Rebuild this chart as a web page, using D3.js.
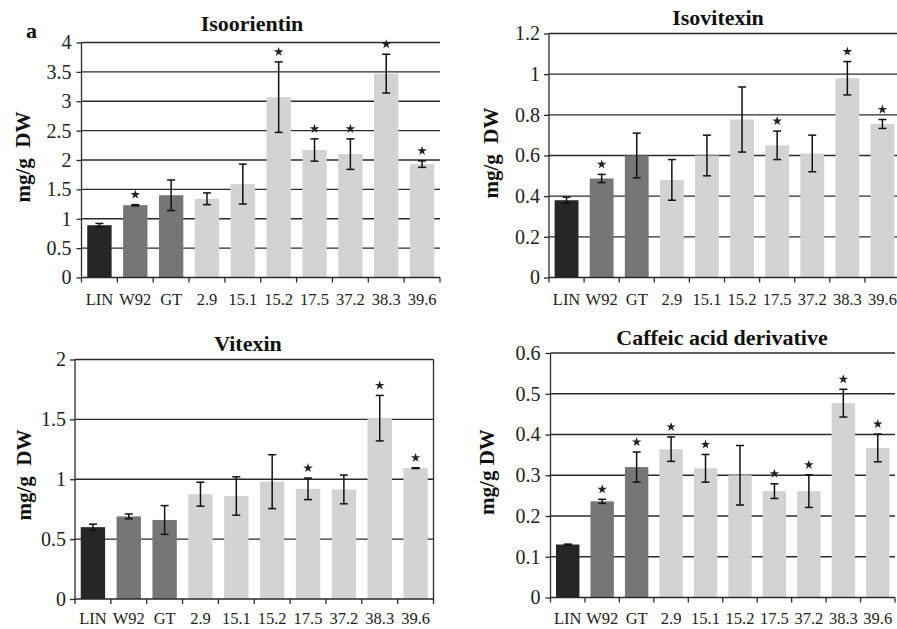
<!DOCTYPE html>
<html>
<head>
<meta charset="utf-8">
<script src="https://cdn.jsdelivr.net/npm/d3@7"></script>
<style>
    body { margin: 0; background: #fff; }
    svg { display: block; }
    svg text { font-family: 'Liberation Serif', 'Times New Roman', serif !important; }
</style>
</head>
<body>
<svg id="chart" width="897" height="629"></svg>
<script>

//  categories shared by all four panels
var categories = ['LIN', 'W92', 'GT', '2.9', '15.1', '15.2', '17.5', '37.2', '38.3', '39.6'];

//  values (mg/g DW), with error half-widths and significance stars
var isoorientin     = [0.89, 1.23, 1.40, 1.34, 1.59, 3.07, 2.17, 2.10, 3.47, 1.93];
var isoorientin_err = [0.03, 0.01, 0.26, 0.10, 0.34, 0.60, 0.19, 0.26, 0.33, 0.055];
var isoorientin_sig = [0, 1, 0, 0, 0, 1, 1, 1, 1, 1];

var isovitexin      = [0.38, 0.487, 0.60, 0.48, 0.60, 0.777, 0.65, 0.61, 0.98, 0.755];
var isovitexin_err  = [0.015, 0.02, 0.11, 0.10, 0.10, 0.16, 0.07, 0.09, 0.082, 0.022];
var isovitexin_sig  = [0, 1, 0, 0, 0, 0, 1, 0, 1, 1];

var vitexin         = [0.60, 0.69, 0.66, 0.875, 0.86, 0.98, 0.92, 0.915, 1.51, 1.093];
var vitexin_err     = [0.025, 0.02, 0.12, 0.10, 0.16, 0.225, 0.09, 0.12, 0.19, 0.003];
var vitexin_sig     = [0, 0, 0, 0, 0, 0, 1, 0, 1, 1];

var caffeic         = [0.130, 0.236, 0.320, 0.364, 0.317, 0.300, 0.261, 0.261, 0.477, 0.367];
var caffeic_err     = [0.001, 0.005, 0.037, 0.030, 0.034, 0.073, 0.018, 0.040, 0.034, 0.034];
var caffeic_sig     = [0, 1, 1, 1, 1, 0, 1, 1, 1, 1];

//  y tick values per panel
var isoorientin_ticks = [0, 0.5, 1, 1.5, 2, 2.5, 3, 3.5, 4];
var isovitexin_ticks  = [0, 0.2, 0.4, 0.6, 0.8, 1, 1.2];
var vitexin_ticks     = [0, 0.5, 1, 1.5, 2];
var caffeic_ticks     = [0, 0.1, 0.2, 0.3, 0.4, 0.5, 0.6];

var colors = { 'dark': '#262626', 'mid': '#767676', 'light': '#d3d3d3' };

function barColor(i) {
    if (i == 0) return colors.dark;
    if (i < 3) return colors.mid;
    return colors.light;
}

var panels = [
    {
        'title': 'Isoorientin', 'ylabel': 'mg/g  DW', 'letter': 'a',
        'values': isoorientin, 'err': isoorientin_err, 'sig': isoorientin_sig, 'ticks': isoorientin_ticks,
        'left': 81.5, 'right': 440, 'top': 42.5, 'bottom': 277.5, 'tick_pad': 5,
        'title_x': 252, 'title_y': 31, 'ylabel_x': 30, 'ylabel_y': 157, 'xlabel_dy': 27, 'box': false
    },
    {
        'title': 'Isovitexin', 'ylabel': 'mg/g  DW',
        'values': isovitexin, 'err': isovitexin_err, 'sig': isovitexin_sig, 'ticks': isovitexin_ticks,
        'left': 549, 'right': 900, 'top': 33.5, 'bottom': 277.5, 'tick_pad': 4,
        'title_x': 718, 'title_y': 25, 'ylabel_x': 498, 'ylabel_y': 153, 'xlabel_dy': 27, 'box': false
    },
    {
        'title': 'Vitexin', 'ylabel': 'mg/g  DW',
        'values': vitexin, 'err': vitexin_err, 'sig': vitexin_sig, 'ticks': vitexin_ticks,
        'left': 75, 'right': 433.5, 'top': 359.5, 'bottom': 599, 'tick_pad': 4,
        'title_x': 248, 'title_y': 351, 'ylabel_x': 31, 'ylabel_y': 475, 'xlabel_dy': 25, 'box': true
    },
    {
        'title': 'Caffeic acid derivative', 'ylabel': 'mg/g DW',
        'values': caffeic, 'err': caffeic_err, 'sig': caffeic_sig, 'ticks': caffeic_ticks,
        'left': 550.5, 'right': 895, 'top': 353, 'bottom': 597.5, 'tick_pad': 5,
        'title_x': 722, 'title_y': 345, 'ylabel_x': 494, 'ylabel_y': 472, 'xlabel_dy': 26.5, 'box': false
    }
];

var svg = d3.select('#chart');

for (var i = 0; i < panels.length; ++i) {
    drawPanel(svg, panels[i]);
}


function drawPanel(svg, p) {

    var g = svg.append('g');

    var x = d3.scaleBand()
        .domain(categories)
        .range([p.left, p.right])
        .paddingInner(0.32)
        .paddingOuter(0.16);

    var y = d3.scaleLinear()
        .domain([0, d3.max(p.ticks)])
        .range([p.bottom, p.top]);

    //  gridlines
    g.selectAll('.grid')
        .data(p.ticks.slice(1))
        .enter()
        .append('line')
        .attr('x1', p.left)
        .attr('x2', p.right)
        .attr('y1', function(d) { return y(d); })
        .attr('y2', function(d) { return y(d); })
        .attr('stroke', '#2a2a2a')
        .attr('stroke-width', 1.3);

    if (p.box) {
        g.append('line')
            .attr('x1', p.right).attr('x2', p.right)
            .attr('y1', p.top).attr('y2', p.bottom)
            .attr('stroke', '#2a2a2a')
            .attr('stroke-width', 1.3);
    }

    //  bars
    g.selectAll('.bar')
        .data(p.values)
        .enter()
        .append('rect')
        .attr('x', function(d, i) { return x(categories[i]); })
        .attr('width', x.bandwidth())
        .attr('y', function(d) { return y(d); })
        .attr('height', function(d) { return y(0) - y(d); })
        .attr('fill', function(d, i) { return barColor(i); });

    var cx = function(i) { return x(categories[i]) + x.bandwidth() / 2; };

    //  error bars
    var eb = g.selectAll('.err')
        .data(p.values)
        .enter()
        .append('g')
        .attr('stroke', '#111')
        .attr('stroke-width', 1.5);

    eb.append('line')
        .attr('x1', function(d, i) { return cx(i); })
        .attr('x2', function(d, i) { return cx(i); })
        .attr('y1', function(d, i) { return y(d + p.err[i]); })
        .attr('y2', function(d, i) { return y(d - p.err[i]); });

    eb.append('line')
        .attr('x1', function(d, i) { return cx(i) - 4; })
        .attr('x2', function(d, i) { return cx(i) + 4; })
        .attr('y1', function(d, i) { return y(d + p.err[i]); })
        .attr('y2', function(d, i) { return y(d + p.err[i]); });

    eb.append('line')
        .attr('x1', function(d, i) { return cx(i) - 4; })
        .attr('x2', function(d, i) { return cx(i) + 4; })
        .attr('y1', function(d, i) { return y(d - p.err[i]); })
        .attr('y2', function(d, i) { return y(d - p.err[i]); });

    //  significance stars
    var star = d3.symbol().type(d3.symbolStar).size(28);

    g.selectAll('.star')
        .data(d3.range(categories.length).filter(function(i) { return p.sig[i]; }))
        .enter()
        .append('path')
        .attr('d', star)
        .attr('transform', function(i) {
            return 'translate(' + cx(i) + ',' + (y(p.values[i] + p.err[i]) - 10) + ')';
        })
        .attr('fill', '#222');

    //  y axis
    var yAxis = d3.axisLeft(y)
        .tickValues(p.ticks)
        .tickSize(5)
        .tickPadding(p.tick_pad)
        .tickFormat(d3.format('~g'));

    var ya = g.append('g')
        .attr('transform', 'translate(' + p.left + ',0)')
        .call(yAxis);

    ya.selectAll('line, path').attr('stroke', '#2a2a2a').attr('stroke-width', 1.3);
    ya.select('.domain').attr('d', 'M0,' + p.bottom + 'V' + p.top);
    ya.selectAll('text')
        .style('font-size', '20px')
        .attr('fill', '#222');

    //  x axis: baseline, boundary ticks, labels
    g.append('line')
        .attr('x1', p.left).attr('x2', p.right)
        .attr('y1', p.bottom).attr('y2', p.bottom)
        .attr('stroke', '#2a2a2a')
        .attr('stroke-width', 1.5);

    var bounds = d3.range(categories.length + 1).map(function(i) {
        return p.left + i * x.step();
    });

    g.selectAll('.xtick')
        .data(bounds)
        .enter()
        .append('line')
        .attr('x1', function(d) { return d; })
        .attr('x2', function(d) { return d; })
        .attr('y1', p.bottom)
        .attr('y2', p.bottom + 5)
        .attr('stroke', '#2a2a2a')
        .attr('stroke-width', 1.3);

    g.selectAll('.xlabel')
        .data(categories)
        .enter()
        .append('text')
        .attr('x', function(d) { return x(d) + x.bandwidth() / 2; })
        .attr('y', p.bottom + p.xlabel_dy)
        .attr('text-anchor', 'middle')
        .style('font-size', '16.5px')
        .attr('fill', '#222')
        .text(function(d) { return d; });

    //  title and y label
    g.append('text')
        .attr('x', p.title_x)
        .attr('y', p.title_y)
        .attr('text-anchor', 'middle')
        .style('font-size', '22px')
        .attr('font-weight', 'bold')
        .attr('fill', '#111')
        .text(p.title);

    g.append('text')
        .attr('transform', 'translate(' + p.ylabel_x + ',' + p.ylabel_y + ') rotate(-90)')
        .attr('text-anchor', 'middle')
        .style('font-size', '21px')
        .attr('font-weight', 'bold')
        .attr('fill', '#111')
        .style('white-space', 'pre')
        .text(p.ylabel);

    if (p.letter) {
        g.append('text')
            .attr('x', 26)
            .attr('y', 38)
            .style('font-size', '22px')
            .attr('font-weight', 'bold')
            .attr('fill', '#111')
            .text(p.letter);
    }
}

</script>
</body>
</html>
